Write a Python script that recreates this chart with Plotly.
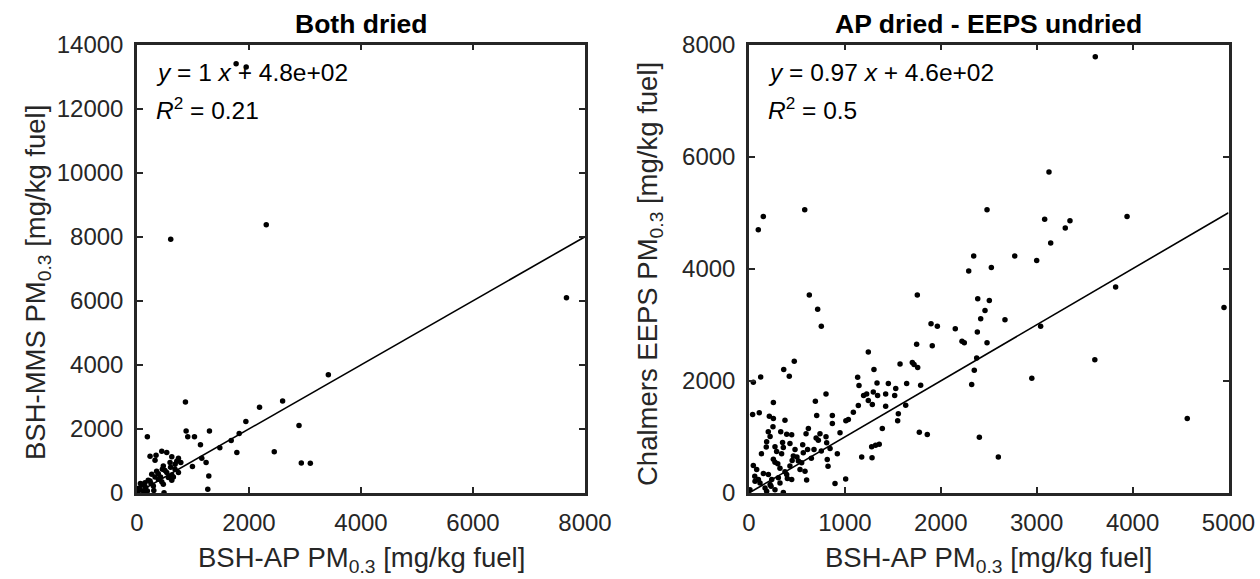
import plotly.graph_objects as go

# ---------------- data ----------------
left_x = [1770, 1950, 602, 2308, 7669, 3417, 865, 2188, 2600, 1944, 2893, 1294, 877, 906, 1026, 185,
          1133, 1825, 1682, 1479, 1783, 2451, 2934, 3095, 990, 1234, 1282, 1264, 1157, 483,
          442, 531, 233, 340, 322, 621, 740, 782, 590, 680, 453, 680, 740, 531, 621, 263, 322, 381,
          233, 143, 84, 442, 621, 292, 155, 54, 113, 20, 185, 470, 560, 350, 470, 710,
          30, 100, 200, 250, 380, 420, 500, 600, 650, 150, 60, 300]
left_y = [13400, 13300, 7921, 8370, 6091, 3690, 2843, 2674, 2874, 2235, 2110, 1934, 1934, 1755, 1755, 1755,
          1505, 1860, 1640, 1410, 1264, 1285, 940, 930, 825, 950, 533, 116, 1088, 10,
          1307, 1264, 1150, 1181, 1025, 1128, 1088, 950, 950, 900, 743, 743, 637, 637, 564, 586, 502, 429,
          376, 323, 272, 355, 398, 219, 168, 116, 63, 10, 63, 272, 480, 680, 840, 990,
          150, 250, 400, 300, 600, 500, 700, 800, 500, 50, 300, 80]

right_x = [3611, 97, 149, 581, 2482, 3128, 3083, 3347, 3298, 3942, 3146, 2343, 2771, 3000, 2527, 2291,
           629, 1755, 716, 754, 2385, 2506, 2461, 2416, 2669, 1898, 1964, 2151, 2381, 2221, 2245, 2482,
           1748, 1911, 3041, 3823, 4953, 3606, 2949, 4570, 2374, 2349, 2322, 2402, 2600, 1776, 1859,
           1244, 1575, 1703, 1721, 1759, 1303, 1133, 1790, 1644, 1335, 1453, 1530, 1147, 1227, 1296,
           1425, 1519, 1341, 1195, 1425, 1634, 1557, 1550, 1390, 1286, 1244, 1140, 1088, 1036, 1010,
           949, 869, 869, 803, 692, 706, 619, 595, 740, 803, 810, 845, 723, 678, 754, 921, 816, 824,
           1175, 1283, 1279, 1320, 1358, 897, 1008,
           472, 362, 420, 122, 45, 254, 107, 38, 212, 254, 375, 201, 220, 184, 331, 393, 445, 427, 271,
           358, 480, 566, 611, 462, 549, 532, 427, 271, 323, 375, 445, 306, 237, 202, 220, 167, 115, 80,
           45, 98, 63, 10, 184, 271, 358, 323, 393, 601, 584, 515, 254, 288, 340,
           150, 230, 300, 400, 500, 130, 60, 350, 450, 560, 650, 700, 250, 180]
right_y = [7781, 4695, 4931, 5051, 5051, 5726, 4885, 4855, 4725, 4931, 4458, 4226, 4226, 4148, 4023, 3959,
           3531, 3531, 3276, 2973, 3466, 3435, 3257, 3109, 3092, 3020, 2973, 2931, 2873, 2706, 2682, 2682,
           2652, 2628, 2973, 3674, 3311, 2379, 2047, 1329, 2410, 2189, 1934, 996, 640, 1085, 1044,
           2517, 2303, 2326, 2290, 2237, 2201, 2064, 1922, 1952, 1964, 1952, 1863, 1916, 1768, 1800,
           1768, 1740, 1740, 1740, 1548, 1566, 1412, 1288, 1151, 1580, 1650, 1560, 1441, 1311, 1290,
           1074, 1240, 1382, 1768, 1637, 1382, 1151, 1056, 1056, 1003, 896, 794, 942, 776, 750, 700, 598, 479,
           640, 628, 824, 850, 870, 171, 248,
           2349, 2201, 2082, 2071, 1975, 1614, 1430, 1400, 1370, 1330, 1298, 1091, 1010, 913, 1091, 1050, 1040, 883, 824,
           810, 776, 718, 776, 660, 540, 420, 480, 550, 440, 380, 242, 270, 242, 330, 150, 90, 180, 420,
           490, 242, 210, 60, 30, 60, 10, 180, 330, 230, 390, 570, 600, 740, 700,
           350, 120, 520, 260, 640, 700, 300, 900, 580, 860, 620, 980, 1180, 820]

titles = ["Both dried", "AP dried - EEPS undried"]
fit_texts = ["<i>y</i> = 1 <i>x</i> + 4.8e+02", "<i>y</i> = 0.97 <i>x</i> + 4.6e+02"]
r2_texts = ["<i>R</i><sup>2</sup> = 0.21", "<i>R</i><sup>2</sup> = 0.5"]
x_titles = ["BSH-AP PM<sub>0.3</sub> [mg/kg fuel]", "BSH-AP PM<sub>0.3</sub> [mg/kg fuel]"]
y_titles = ["BSH-MMS PM<sub>0.3</sub> [mg/kg fuel]", "Chalmers EEPS PM<sub>0.3</sub> [mg/kg fuel]"]
left_xmax, left_ymax = 8000, 14000
right_xmax, right_ymax = 5000, 8000
left_xticks = [0, 2000, 4000, 6000, 8000]
left_yticks = [0, 2000, 4000, 6000, 8000, 10000, 12000, 14000]
right_xticks = [0, 1000, 2000, 3000, 4000, 5000]
right_yticks = [0, 2000, 4000, 6000, 8000]

# ---------------- figure ----------------
W, H = 1260, 579
FONT = "Liberation Sans, Arial, Helvetica, sans-serif"
AX = "#262626"
TICK_SIZE = 24
LABEL_SIZE = 27.5
TITLE_SIZE = 26.5
NOTE_SIZE = 24.5

fig = go.Figure()

# 1:1 reference lines
lx = [0, min(left_xmax, left_ymax)]
rx = [0, min(right_xmax, right_ymax)]
fig.add_trace(go.Scatter(x=lx, y=lx, mode="lines", line=dict(color="black", width=1.6),
                         xaxis="x", yaxis="y", showlegend=False, hoverinfo="skip"))
fig.add_trace(go.Scatter(x=rx, y=rx, mode="lines", line=dict(color="black", width=1.6),
                         xaxis="x2", yaxis="y2", showlegend=False, hoverinfo="skip"))

fig.add_trace(go.Scatter(x=left_x, y=left_y, mode="markers", marker=dict(color="black", size=5.5),
                         xaxis="x", yaxis="y", showlegend=False, cliponaxis=False))
fig.add_trace(go.Scatter(x=right_x, y=right_y, mode="markers", marker=dict(color="black", size=5.5),
                         xaxis="x2", yaxis="y2", showlegend=False, cliponaxis=False))


def px2x(px):
    return px / W


def px2y(py):
    return 1 - py / H


left_dom = [px2x(137), px2x(585)]
right_dom = [px2x(749), px2x(1228.5)]
y_dom = [px2y(493), px2y(44.5)]

common = dict(showline=True, linewidth=2.5, linecolor=AX, mirror="ticks", ticks="inside",
              ticklen=6, tickwidth=1.5, tickcolor=AX, showgrid=False, zeroline=False,
              tickfont=dict(family=FONT, size=TICK_SIZE, color=AX), automargin=False)

fig.update_layout(
    width=W, height=H,
    margin=dict(l=0, r=0, t=0, b=0),
    paper_bgcolor="white", plot_bgcolor="white",
    font=dict(family=FONT, color=AX),
    xaxis=dict(domain=left_dom, range=[0, left_xmax], tickvals=left_xticks,
               ticktext=[str(v) for v in left_xticks], anchor="y", ticklabelstandoff=6, **common),
    yaxis=dict(domain=y_dom, range=[0, left_ymax], tickvals=left_yticks,
               ticktext=[str(v) for v in left_yticks], anchor="x", ticklabelstandoff=6, **common),
    xaxis2=dict(domain=right_dom, range=[0, right_xmax], tickvals=right_xticks,
                ticktext=[str(v) for v in right_xticks], anchor="y2", ticklabelstandoff=6, **common),
    yaxis2=dict(domain=y_dom, range=[0, right_ymax], tickvals=right_yticks,
                ticktext=[str(v) for v in right_yticks], anchor="x2", ticklabelstandoff=6, **common),
)

annotations = []
plots = [(137, 585), (749, 1228.5)]
ytitle_x = [37, 649]
ytitle_y = [283, 274]
for i, (x0, x1) in enumerate(plots):
    cx = (x0 + x1) / 2
    annotations.append(dict(text="<b>" + titles[i] + "</b>", x=px2x(cx), y=px2y(24), xref="paper",
                            yref="paper", showarrow=False, xanchor="center", yanchor="middle",
                            font=dict(family=FONT, size=TITLE_SIZE, color="black")))
    annotations.append(dict(text=fit_texts[i], x=px2x(x0 + 17), y=px2y(72), xref="paper", yref="paper",
                            showarrow=False, xanchor="left", yanchor="middle",
                            font=dict(family=FONT, size=NOTE_SIZE, color="black")))
    annotations.append(dict(text=r2_texts[i], x=px2x(x0 + 17), y=px2y(108), xref="paper", yref="paper",
                            showarrow=False, xanchor="left", yanchor="middle",
                            font=dict(family=FONT, size=NOTE_SIZE, color="black")))
    annotations.append(dict(text=x_titles[i], x=px2x(cx), y=px2y(559), xref="paper", yref="paper",
                            showarrow=False, xanchor="center", yanchor="middle",
                            font=dict(family=FONT, size=LABEL_SIZE, color=AX)))
    annotations.append(dict(text=y_titles[i], x=px2x(ytitle_x[i]), y=px2y(ytitle_y[i]), xref="paper",
                            yref="paper", showarrow=False, xanchor="center", yanchor="middle",
                            textangle=-90, font=dict(family=FONT, size=LABEL_SIZE, color=AX)))

fig.update_layout(annotations=annotations)

fig.write_html("out.html")
